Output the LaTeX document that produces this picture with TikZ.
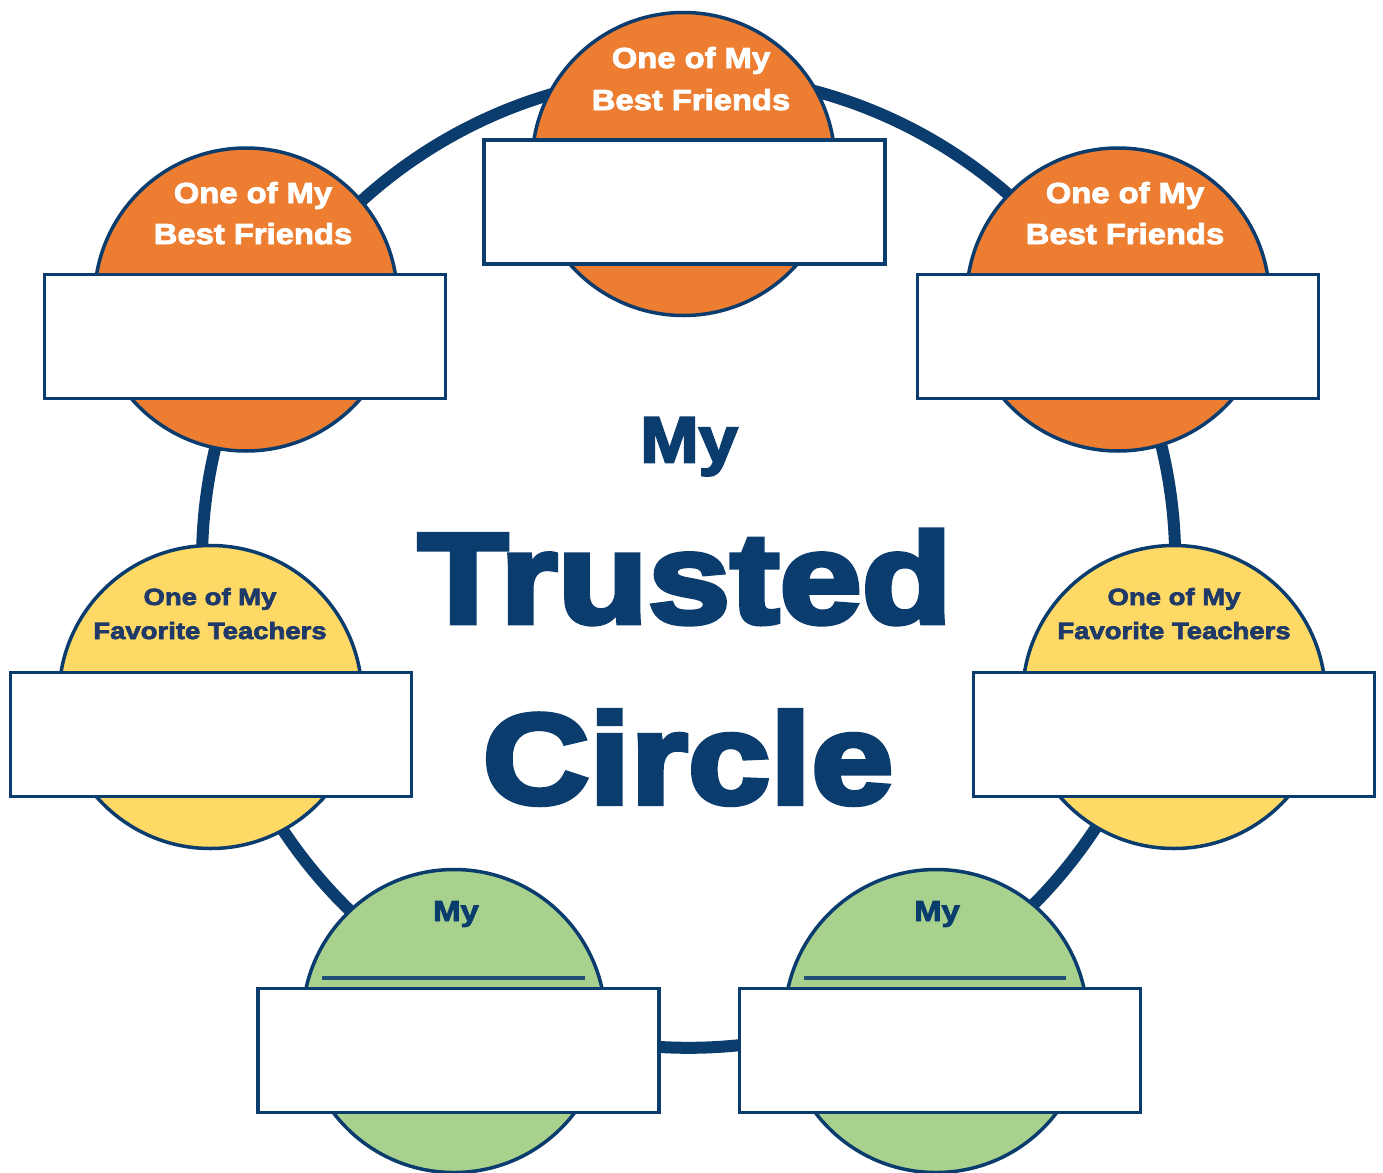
\documentclass[tikz,border=0pt]{standalone}
\usepackage{fontspec}
\setmainfont{Liberation Sans}
\font\titleMy="Liberation Sans/B:embolden=3.5;extend=1.08" at 65pt
\font\titleBig="Liberation Sans/B:embolden=4.2;extend=1.155" at 128pt
\font\lblOrange="Liberation Sans/B:embolden=3;extend=1.13" at 29pt
\font\lblYellow="Liberation Sans/B:embolden=3;extend=1.17" at 23.5pt
\definecolor{navy}{HTML}{0A3C6E}
\definecolor{orng}{HTML}{ED7D31}
\definecolor{yell}{HTML}{FFD966}
\definecolor{grn}{HTML}{A9D18E}
\definecolor{txtnavy}{HTML}{1F3A68}
\definecolor{linenavy}{HTML}{1F4E79}
\tikzset{
  ring/.style={draw=navy, line width=12pt},
  bubble/.style={circle, draw=navy, line width=3.5pt, minimum size=303pt, inner sep=0pt},
  namebox/.style={rectangle, draw=navy, line width=3.5pt, fill=white, minimum width=401pt, minimum height=124pt, inner sep=0pt},
  olbl/.style={anchor=base, text=white, inner sep=0pt, font=\lblOrange},
  ylbl/.style={anchor=base, text=txtnavy, inner sep=0pt, font=\lblYellow},
  glbl/.style={anchor=base, text=navy, inner sep=0pt, font=\lblOrange},
  ttl/.style={anchor=base, text=navy, inner sep=0pt},
}
\begin{document}
\begin{tikzpicture}[x=1pt,y=-1pt]
\useasboundingbox[fill=white] (0,0) rectangle (1383,1172);
% big ring
\coordinate (rc) at (688.6,561.2);
\draw[ring] (rc) circle[radius=486.6pt];
% bubbles
\node[bubble, fill=orng] (c1) at (683.5,164) {};
\node[bubble, fill=orng] (c2) at (246,299.5) {};
\node[bubble, fill=orng] (c3) at (1118,299.5) {};
\node[bubble, fill=yell] (c4) at (210.5,697) {};
\node[bubble, fill=yell] (c5) at (1174,697) {};
\node[bubble, fill=grn] (c6) at (454,1021) {};
\node[bubble, fill=grn] (c7) at (936,1021) {};
% labels
\node[olbl] (l1a) at (691,68) {One of My};
\node[olbl] (l1b) at (691,110) {Best Friends};
\node[olbl] (l2a) at (253,203) {One of My};
\node[olbl] (l2b) at (253,244) {Best Friends};
\node[olbl] (l3a) at (1125,203) {One of My};
\node[olbl] (l3b) at (1125,244) {Best Friends};
\node[ylbl] (l4a) at (210,605) {One of My};
\node[ylbl] (l4b) at (210,639) {Favorite Teachers};
\node[ylbl] (l5a) at (1174,605) {One of My};
\node[ylbl] (l5b) at (1174,639) {Favorite Teachers};
\node[glbl] (l6) at (456,921) {My};
\node[glbl] (l7) at (937,921) {My};
\draw[linenavy, line width=4pt] (322,977.5) -- (585,977.5);
\draw[linenavy, line width=4pt] (804,977.5) -- (1066,977.5);
% boxes
\node[namebox] (b1) at (684.3,202) {};
\node[namebox] (b2) at (245,336.5) {};
\node[namebox] (b3) at (1118,336.5) {};
\node[namebox] (b4) at (211,734.5) {};
\node[namebox] (b5) at (1174.2,734.5) {};
\node[namebox] (b6) at (458.7,1050.5) {};
\node[namebox] (b7) at (940,1050.5) {};
% title
\node[ttl, font=\titleMy] (t1) at (689,462.3) {My};
\node[ttl, font=\titleBig] (t2) at (685,622.7) {Trusted};
\node[ttl, font=\titleBig] (t3) at (688,803.3) {Circle};
\end{tikzpicture}
\end{document}
